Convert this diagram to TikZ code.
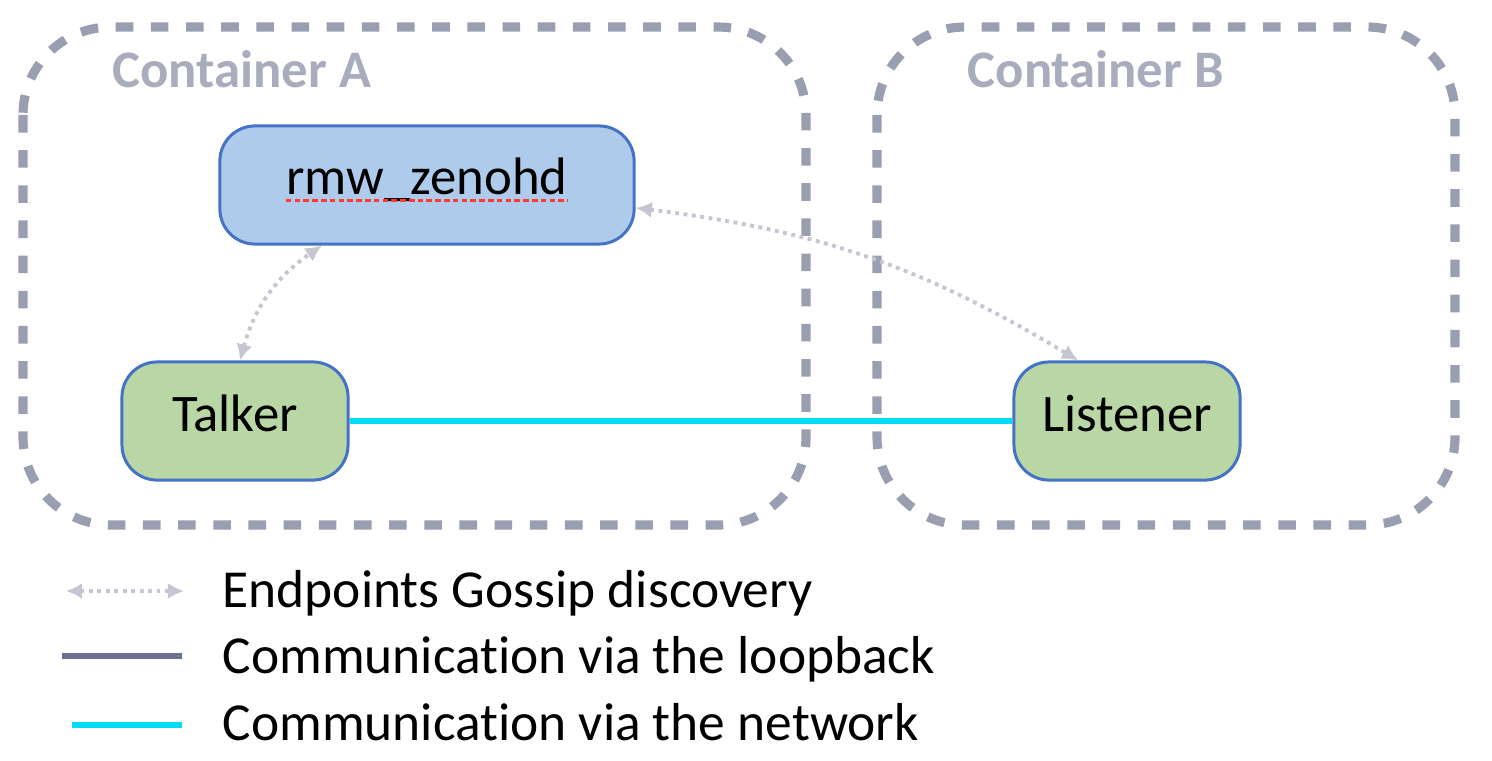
\documentclass[tikz,border=0pt]{standalone}
\usepackage{fontspec}
\setmainfont{Carlito}[Ligatures=NoCommon]
\usepackage{xcolor}
\usepackage{tikz}
\usetikzlibrary{arrows.meta}
\usetikzlibrary{positioning}
\definecolor{rahmengrau}{HTML}{9A9EB1}
\definecolor{titelgrau}{HTML}{A9ACBD}
\definecolor{randblau}{HTML}{4472C4}
\definecolor{boxblau}{HTML}{AECBEB}
\definecolor{boxgruen}{HTML}{B8D7A5}
\definecolor{gossipgrau}{HTML}{C6C5D2}
\definecolor{loopgrau}{HTML}{6B7191}
\definecolor{netzcyan}{HTML}{00DCF8}
\definecolor{rotstrich}{HTML}{FF3B30}
\tikzset{
  Container/.style={draw=rahmengrau, line width=2.6pt, dash pattern=on 5pt off 5pt, rounded corners=25pt}, % gestrichelte Rahmen
  Titel/.style={text=titelgrau, font=\bfseries\fontsize{15}{18}\selectfont, anchor=base west, inner sep=0pt},
  Knoten/.style={draw=randblau, line width=0.85pt, rounded corners=10pt, minimum height=33.6pt, text height=10.5pt, text depth=4.3pt, font=\fontsize{15}{18}\selectfont},
  Gossip/.style={gossipgrau, line width=1.1pt, dash pattern=on 1.1pt off 1.3pt, {Latex[length=4.6pt,width=4.6pt]}-{Latex[length=4.6pt,width=4.6pt]}}, % Discovery-Pfeile
  Loop/.style={loopgrau, line width=1.5pt},
  Netz/.style={netzcyan, line width=1.5pt},
  Legende/.style={anchor=base west, inner sep=0pt, font=\fontsize{15.2}{18}\selectfont}
}
\begin{document}
\begin{tikzpicture}[x=0.01cm, y=-0.01cm]
\useasboundingbox (0,0) rectangle (1492,760);

%Container
\draw[Container] (23,27) rectangle (806,525);
\draw[Container] (877,27) rectangle (1455,525);
\node[Titel] (titelA) at (112,87) {Container A};
\node[Titel] (titelB) at (967,87) {Container B};

%Knoten
\node[Knoten, fill=boxblau, minimum width=117.8pt] (rmw) at (427,185) {};
\node[inner sep=0pt, font=\fontsize{15}{18}\selectfont] (rmwtext) at ([yshift=1.5pt]rmw.center) {rmw\_zenohd};
\draw[rotstrich, line width=0.9pt, dash pattern=on 1.6pt off 0.9pt] ([yshift=-1.6pt]rmwtext.base west) -- ([yshift=-1.6pt]rmwtext.base east);
\node[Knoten, fill=boxgruen, minimum width=64.3pt] (talker) at (235,421) {Talker};
\node[Knoten, fill=boxgruen, minimum width=64.3pt] (listener) at (1127,421) {Listener};

%Verbindungen
\draw[Netz] (talker) -- (listener);
\draw[Gossip] ([xshift=1.4pt]talker.north) to [bend left=20] ([xshift=-29.9pt]rmw.south);
\draw[Gossip] ([yshift=-6.5pt]rmw.east) to [bend left=12] ([xshift=-13.9pt]listener.north);

%Legende
\coordinate (g1) at (66,591);
\coordinate (g2) at (184,591);
\coordinate (l1) at (62,656);
\coordinate (l2) at (182,656);
\coordinate (n1) at (72,725);
\coordinate (n2) at (182,725);
\draw[Gossip] (g1) -- (g2);
\draw[Loop] (l1) -- (l2);
\draw[Netz] (n1) -- (n2);
\node[Legende] (leg1) at (222,607) {Endpoints Gossip discovery};
\node[Legende] (leg2) at (222,673) {Communication via the loopback};
\node[Legende] (leg3) at (222,740) {Communication via the network};

\end{tikzpicture}
\end{document}
